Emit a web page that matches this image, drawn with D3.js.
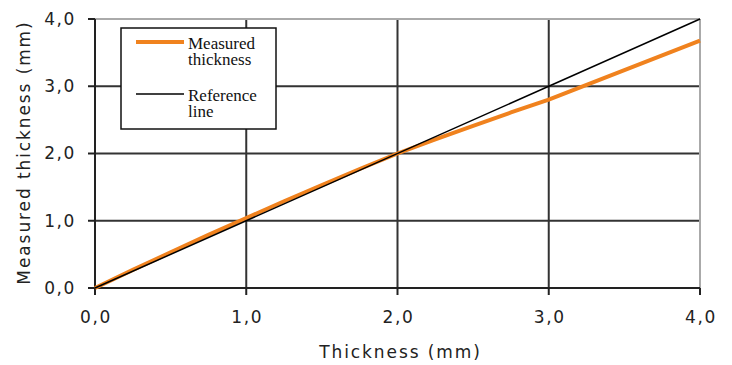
<!DOCTYPE html>
<html>
<head>
<meta charset="utf-8">
<script src="https://cdn.jsdelivr.net/npm/d3@7"></script>
<style>
  body { margin: 0; background: #fff; }
  .tick-label { font-family: "DejaVu Sans", sans-serif; font-size: 17px; fill: #222; letter-spacing: 1.6px; }
  .axis-title { font-family: "DejaVu Sans", sans-serif; font-size: 17px; fill: #222; letter-spacing: 1.9px; }
  .legend-text { font-family: "Liberation Serif", serif; font-size: 17px; fill: #111; }
</style>
</head>
<body>
<div id="chart"></div>
<script>
const width = 732;
const height = 365;
const margin = {top: 19, right: 32, bottom: 77, left: 95};

// Data
const thickness = [0, 0.25, 0.5, 0.75, 1.0, 1.25, 1.5, 1.75, 2.0, 2.25, 2.5, 2.75, 3.0, 3.25, 3.5, 3.75, 4.0];
const measured  = [0, 0.27, 0.53, 0.79, 1.04, 1.29, 1.53, 1.77, 2.0, 2.21, 2.41, 2.61, 2.8, 3.02, 3.24, 3.46, 3.68];
const reference = [0, 4];
const ticks = [0, 1, 2, 3, 4];
const legendItems = [
  {lines: ['Measured', 'thickness'], color: '#f0821e', width: 4},
  {lines: ['Reference', 'line'], color: '#000', width: 1.5}
];

const svg = d3.select('#chart').append('svg')
  .attr('width', width)
  .attr('height', height);

const x = d3.scaleLinear().domain([0, 4]).range([margin.left, width - margin.right]);
const y = d3.scaleLinear().domain([0, 4]).range([height - margin.bottom, margin.top]);
const fmt = d => d3.format('.1f')(d).replace('.', ',');

// Grid lines
const grid = svg.append('g').attr('class', 'grid');
grid.selectAll('.vgrid')
  .data(ticks.slice(1, -1))
  .join('line')
    .attr('x1', d => x(d)).attr('x2', d => x(d))
    .attr('y1', y(0)).attr('y2', y(4))
    .attr('stroke', '#333').attr('stroke-width', 2);
grid.selectAll('.hgrid')
  .data(ticks.slice(1, -1))
  .join('line')
    .attr('y1', d => y(d)).attr('y2', d => y(d))
    .attr('x1', x(0)).attr('x2', x(4))
    .attr('stroke', '#333').attr('stroke-width', 2);

// Top and right borders (light)
svg.append('line')
    .attr('x1', x(0)).attr('x2', x(4)).attr('y1', y(4)).attr('y2', y(4))
    .attr('stroke', '#aaa').attr('stroke-width', 2);
svg.append('line')
    .attr('x1', x(4)).attr('x2', x(4)).attr('y1', y(0)).attr('y2', y(4))
    .attr('stroke', '#aaa').attr('stroke-width', 2);

// Axes lines and ticks
svg.append('line')
    .attr('x1', x(0)).attr('x2', x(0)).attr('y1', y(0)).attr('y2', y(4))
    .attr('stroke', '#222').attr('stroke-width', 2);
svg.append('line')
    .attr('x1', x(0)).attr('x2', x(4)).attr('y1', y(0)).attr('y2', y(0))
    .attr('stroke', '#222').attr('stroke-width', 2);
svg.selectAll('.ytick')
  .data(ticks)
  .join('line')
    .attr('x1', x(0) - 7).attr('x2', x(0))
    .attr('y1', d => y(d)).attr('y2', d => y(d))
    .attr('stroke', '#222').attr('stroke-width', 2);
svg.selectAll('.xtick')
  .data(ticks)
  .join('line')
    .attr('x1', d => x(d)).attr('x2', d => x(d))
    .attr('y1', y(0)).attr('y2', y(0) + 7)
    .attr('stroke', '#222').attr('stroke-width', 2);

// Tick labels
svg.selectAll('.ylabel')
  .data(ticks)
  .join('text')
    .attr('class', 'tick-label')
    .attr('x', x(0) - 19)
    .attr('y', d => y(d))
    .attr('dy', '0.35em')
    .attr('text-anchor', 'end')
    .text(fmt);
svg.selectAll('.xlabel')
  .data(ticks)
  .join('text')
    .attr('class', 'tick-label')
    .attr('x', d => x(d) + 1)
    .attr('y', y(0) + 35)
    .attr('text-anchor', 'middle')
    .text(fmt);

// Axis titles
svg.append('text')
    .attr('class', 'axis-title')
    .attr('x', (x(0) + x(4)) / 2 + 3)
    .attr('y', height - 7)
    .attr('text-anchor', 'middle')
    .text('Thickness (mm)');
svg.append('text')
    .attr('class', 'axis-title')
    .attr('transform', `translate(30, ${(y(0) + y(4)) / 2 - 1}) rotate(-90)`)
    .attr('text-anchor', 'middle')
    .text('Measured thickness (mm)');

// Series
const line = d3.line().x(d => x(d[0])).y(d => y(d[1]));
svg.append('path')
    .datum(thickness.map((t, i) => [t, measured[i]]))
    .attr('d', line)
    .attr('fill', 'none')
    .attr('stroke', legendItems[0].color)
    .attr('stroke-width', 4);
svg.append('path')
    .datum([[0, reference[0]], [4, reference[1]]])
    .attr('d', line)
    .attr('fill', 'none')
    .attr('stroke', '#000')
    .attr('stroke-width', 1.5);

// Legend
const legend = svg.append('g').attr('class', 'legend');
legend.append('rect')
    .attr('x', 121).attr('y', 28)
    .attr('width', 155).attr('height', 101)
    .attr('fill', '#fff')
    .attr('stroke', '#111').attr('stroke-width', 1.5);
const items = legend.selectAll('.legend-item')
  .data(legendItems)
  .join('g')
    .attr('transform', (d, i) => `translate(0, ${42 + i * 52})`);
items.append('line')
    .attr('x1', 136).attr('x2', 184)
    .attr('y1', 0).attr('y2', 0)
    .attr('stroke', d => d.color)
    .attr('stroke-width', d => d.width);
items.append('text')
    .attr('class', 'legend-text')
    .attr('x', 188)
    .attr('y', 7)
    .selectAll('tspan')
    .data(d => d.lines)
    .join('tspan')
      .attr('x', 188)
      .attr('dy', (d, i) => i === 0 ? 0 : 16)
      .text(d => d);
</script>
</body>
</html>
